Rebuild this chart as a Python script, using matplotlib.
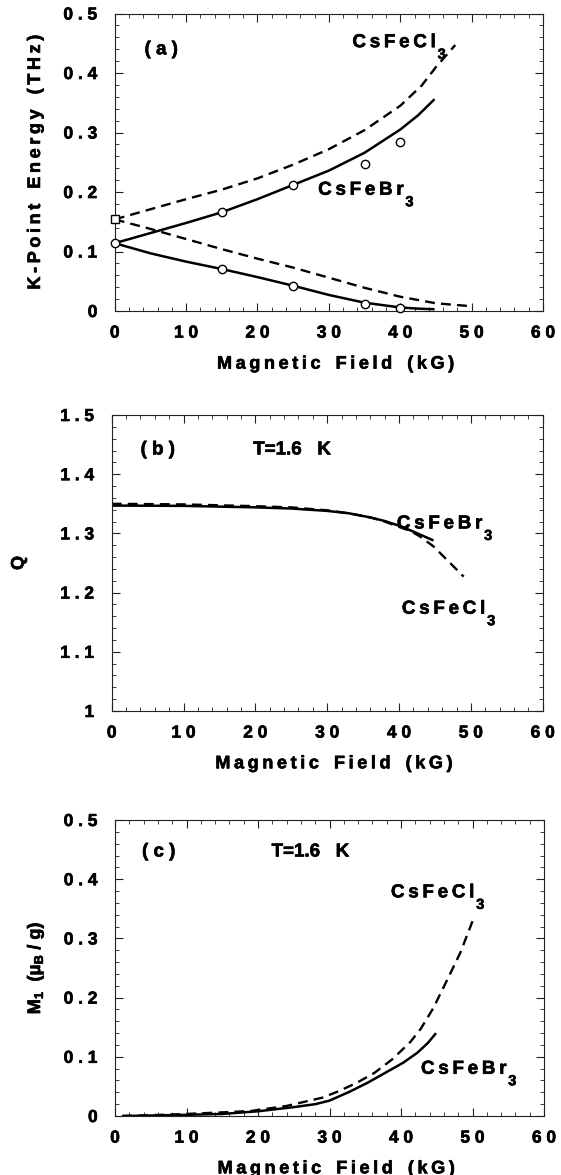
import matplotlib
matplotlib.use('Agg')
import matplotlib.pyplot as plt
import matplotlib.patheffects as pe
from matplotlib.text import Text
from matplotlib.ticker import MultipleLocator, FixedLocator

plt.rcParams['font.family'] = ['Liberation Sans', 'DejaVu Sans']
plt.rcParams['font.weight'] = 'bold'
plt.rcParams['mathtext.fontset'] = 'custom'
plt.rcParams['mathtext.rm'] = 'Liberation Sans:bold'
plt.rcParams['mathtext.it'] = 'Liberation Sans:bold'
plt.rcParams['mathtext.bf'] = 'Liberation Sans:bold'
plt.rcParams['mathtext.default'] = 'rm'

# ---------------- data ----------------
x_ticks = [0, 10, 20, 30, 40, 50, 60]
a_yticks = [0, 0.1, 0.2, 0.3, 0.4, 0.5]
b_yticks = [1.0, 1.1, 1.2, 1.3, 1.4, 1.5]
c_yticks = [0, 0.1, 0.2, 0.3, 0.4, 0.5]

# (a) K-point energy (THz)
a_br_x = [0, 5, 10, 15, 20, 25, 30, 35, 40, 42.5, 44.8]
a_br_up = [0.114, 0.131, 0.148, 0.166, 0.188, 0.212, 0.236, 0.266, 0.305, 0.329, 0.356]
a_br_lo = [0.114, 0.097, 0.083, 0.0706, 0.057, 0.0425, 0.027, 0.014, 0.006, 0.004, 0.003]
a_cl_up_x = [0, 5, 10, 15, 20, 25, 30, 35, 40, 43, 45, 47.7]
a_cl_up = [0.154, 0.171, 0.188, 0.204, 0.223, 0.246, 0.272, 0.304, 0.345, 0.379, 0.410, 0.447]
a_cl_lo_x = [0, 5, 10, 15, 20, 25, 30, 35, 40, 45, 50]
a_cl_lo = [0.154, 0.138, 0.121, 0.104, 0.088, 0.073, 0.056, 0.039, 0.024, 0.013, 0.008]
a_obs_x = [0, 15, 25, 35, 40]
a_obs_up = [0.114, 0.166, 0.212, 0.2465, 0.2846]
a_obs_lo_x = [15, 25, 35, 40]
a_obs_lo = [0.0706, 0.0425, 0.0118, 0.0056]
a_sq_x = [0]
a_sq_y = [0.154]

# (b) Q
b_br_x = [0, 10, 20, 25, 30, 33, 36, 38, 40, 42, 44.8]
b_br_q = [1.347, 1.3465, 1.344, 1.342, 1.338, 1.334, 1.327, 1.321, 1.313, 1.303, 1.288]
b_cl_x = [0, 10, 20, 25, 30, 33, 36, 38, 40, 41.6, 42.9, 44.8, 46.2, 47.6, 49.0]
b_cl_q = [1.350, 1.349, 1.346, 1.344, 1.339, 1.334, 1.327, 1.320, 1.311, 1.304, 1.295,
          1.278, 1.261, 1.244, 1.227]

# (c) M1
c_br_x = [1, 5, 10, 15, 20, 25, 28, 30, 32.8, 35.3, 37.8, 40.3, 42.3, 43.8, 44.9]
c_br_m = [0.0, 0.0008, 0.002, 0.0035, 0.008, 0.015, 0.020, 0.026, 0.041, 0.056, 0.073,
          0.090, 0.107, 0.124, 0.140]
c_cl_x = [1, 4, 9, 14, 19, 24, 29, 31.3, 33.8, 36.3, 38.8, 41.3, 42.8, 44.5, 46.3, 48.3, 50]
c_cl_m = [0.0, 0.001, 0.003, 0.0056, 0.0085, 0.017, 0.031, 0.042, 0.056, 0.073, 0.096,
          0.125, 0.148, 0.182, 0.226, 0.276, 0.329]

THIN = '\u2009'


def track(s, sep=THIN):
    return sep.join(s)


def words(*ws):
    return '   '.join(track(w) for w in ws)


def tick_label(v, decimals):
    if v == 0:
        return '0'
    if decimals > 0 and v == 1:
        return '1'
    s = f'{v:.{decimals}f}' if decimals else f'{int(v)}'
    return ' '.join(s)


fig = plt.figure(figsize=(5.61, 11.75), dpi=100)
rects = [
    [0.2045, 0.7353, 0.7635, 0.2532],
    [0.1991, 0.3949, 0.7683, 0.2519],
    [0.2050, 0.0502, 0.7647, 0.2519],
]
axes = [fig.add_axes(r) for r in rects]

SOLID = dict(color='black', lw=1.8, solid_capstyle='butt')
DASH = dict(color='black', lw=1.7, dashes=(4.2, 2.6))
TICKFS = 12.5
LABFS = 13
TXTFS = 13.5


def style_axis(ax, yticks, ylim, ydec, ylabel, ylab_x):
    ax.set_xlim(0, 60)
    ax.set_ylim(*ylim)
    ax.xaxis.set_major_locator(FixedLocator(x_ticks))
    ax.xaxis.set_minor_locator(MultipleLocator(2))
    ax.yaxis.set_major_locator(FixedLocator(yticks))
    ax.yaxis.set_minor_locator(MultipleLocator(0.02))
    ax.set_xticklabels([tick_label(v, 0) for v in x_ticks], fontsize=TICKFS, fontweight='bold')
    ax.set_yticklabels([tick_label(v, ydec) for v in yticks], fontsize=TICKFS, fontweight='bold')
    ax.tick_params(which='both', direction='in', top=True, right=True, color='#222222')
    ax.tick_params(which='major', length=6, width=0.8)
    ax.tick_params(which='minor', length=3, width=0.6)
    ax.tick_params(axis='x', which='major', pad=10.5)
    ax.tick_params(axis='y', which='major', pad=12.5)
    for sp in ax.spines.values():
        sp.set_linewidth(0.8)
        sp.set_color('#222222')
    ax.set_xlabel(words('Magnetic', 'Field', '(kG)'), fontsize=LABFS, fontweight='bold', va='center')
    ax.xaxis.set_label_coords(0.515, -53 / 297)
    ax.set_ylabel(ylabel, fontsize=LABFS, fontweight='bold', va='center')
    ax.yaxis.set_label_coords(ylab_x, 0.5)


def sub_label(ax, x, y, main, sub='3'):
    t = ax.text(x, y, track(main), fontsize=TXTFS, fontweight='bold', ha='left', va='center')
    ax.annotate(sub, xy=(1, 0), xycoords=t, xytext=(1.5, 2.5), textcoords='offset points',
                fontsize=10.5, fontweight='bold', ha='left', va='top')
    return t


# ---------- panel (a) ----------
ax = axes[0]
style_axis(ax, a_yticks, (0, 0.5), 1, words('K-Point', 'Energy', '(THz)'), -0.185)
ax.plot(a_cl_up_x, a_cl_up, **DASH)
ax.plot(a_cl_lo_x, a_cl_lo, **DASH)
ax.plot(a_br_x, a_br_up, **SOLID)
ax.plot(a_br_x, a_br_lo, **SOLID)
ax.plot(a_obs_x, a_obs_up, 'o', ms=6, mfc='white', mec='black', mew=1.0, clip_on=False, zorder=5)
ax.plot(a_obs_lo_x, a_obs_lo, 'o', ms=6, mfc='white', mec='black', mew=1.0, clip_on=False, zorder=5)
ax.plot(a_sq_x, a_sq_y, 's', ms=5.4, mfc='white', mec='black', mew=1.0, clip_on=False, zorder=5)
ax.text(6.5, 0.439, track('(a)', ' '), fontsize=TXTFS, fontweight='bold', ha='center', va='center')
sub_label(ax, 33.3, 0.451, 'CsFeCl')
sub_label(ax, 28.5, 0.203, 'CsFeBr')

# ---------- panel (b) ----------
ax = axes[1]
style_axis(ax, b_yticks, (1.0, 1.5), 1, 'Q', -0.215)
ax.plot(b_cl_x, b_cl_q, **DASH)
ax.plot(b_br_x, b_br_q, **SOLID)
ax.text(6.4, 1.441, track('(b)', ' '), fontsize=TXTFS, fontweight='bold', ha='center', va='center')
ax.text(19.7, 1.441, 'T=1.6' + '   ' + 'K', fontsize=TXTFS, fontweight='bold',
        ha='left', va='center')
sub_label(ax, 39.7, 1.316, 'CsFeBr')
sub_label(ax, 40.4, 1.172, 'CsFeCl')

# ---------- panel (c) ----------
ax = axes[2]
style_axis(ax, c_yticks, (0, 0.5), 1, r'M$_{1}$  ($\mu_{B}$ / g)', -0.185)
ax.plot(c_cl_x, c_cl_m, **DASH)
ax.plot(c_br_x, c_br_m, **SOLID)
ax.text(6.1, 0.446, track('(c)', ' '), fontsize=TXTFS, fontweight='bold', ha='center', va='center')
ax.text(21.9, 0.446, 'T=1.6' + '   ' + 'K', fontsize=TXTFS, fontweight='bold',
        ha='left', va='center')
sub_label(ax, 38.6, 0.377, 'CsFeCl')
sub_label(ax, 42.8, 0.079, 'CsFeBr')

# slightly heavier strokes to mimic the thick scanned lettering
for t in fig.findobj(Text):
    t.set_path_effects([pe.withStroke(linewidth=0.45, foreground='black')])

fig.savefig('out.png', dpi=100, facecolor='white')
